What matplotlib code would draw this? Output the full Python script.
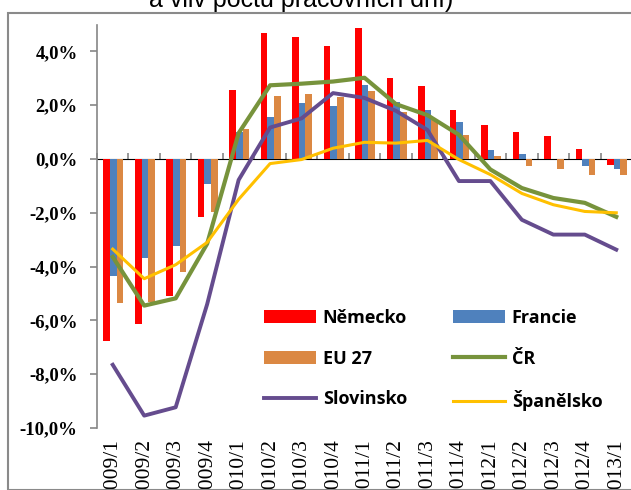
import matplotlib
matplotlib.use("Agg")
import matplotlib.pyplot as plt
import numpy as np
from matplotlib.patches import Rectangle
from matplotlib.ticker import FuncFormatter, FixedLocator, NullFormatter

categories = ["2009/1", "2009/2", "2009/3", "2009/4", "2010/1", "2010/2", "2010/3", "2010/4",
              "2011/1", "2011/2", "2011/3", "2011/4", "2012/1", "2012/2", "2012/3", "2012/4", "2013/1"]
nemecko = [-6.75, -6.12, -5.08, -2.16, 2.58, 4.67, 4.55, 4.21, 4.86, 3.01, 2.70, 1.84, 1.26, 1.02, 0.85, 0.37, -0.23]
francie = [-4.34, -3.68, -3.25, -0.92, 1.02, 1.57, 2.09, 1.96, 2.74, 2.12, 1.84, 1.36, 0.32, 0.20, 0.0, -0.27, -0.37]
eu27 = [-5.35, -5.32, -4.21, -1.97, 1.10, 2.34, 2.43, 2.31, 2.52, 1.75, 1.45, 0.88, 0.12, -0.27, -0.37, -0.61, -0.61]
cr = [-3.64, -5.45, -5.18, -3.15, 0.96, 2.74, 2.80, 2.88, 3.02, 2.04, 1.63, 0.90, -0.39, -1.08, -1.45, -1.63, -2.15]
slovinsko = [-7.65, -9.54, -9.23, -5.4, -0.78, 1.17, 1.51, 2.45, 2.27, 1.79, 1.08, -0.82, -0.82, -2.26, -2.81, -2.81, -3.37]
spanelsko = [-3.35, -4.45, -3.93, -3.1, -1.50, -0.17, -0.02, 0.40, 0.62, 0.59, 0.69, -0.02, -0.58, -1.28, -1.70, -1.95, -2.0]
yticks = [-10, -8, -6, -4, -2, 0, 2, 4]

W, H = 631, 490
fig = plt.figure(figsize=(W / 100, H / 100), dpi=100)

# outer chart frame
fig.patches.append(Rectangle((8 / W, 0), 1, 1 - 13 / H, transform=fig.transFigure,
                             fill=False, edgecolor="#8a8a8a", linewidth=1.5))

fig.text(301 / W, 1 - 7 / H, "a vliv počtu pracovních dní)", ha="center", va="baseline",
         fontsize=18, family="Liberation Sans", color="black")

ax = fig.add_axes([97 / W, 1 - 428 / H, 535 / W, (428 - 24.5) / H])
x = np.arange(len(categories))
bw = 0.21
ax.bar(x - bw + 0.02, nemecko, bw, color="#FF0000", label="Německo", zorder=2)
ax.bar(x + 0.02, francie, bw, color="#4F81BD", label="Francie", zorder=2)
ax.bar(x + bw + 0.02, eu27, bw, color="#DB8843", label="EU 27", zorder=2)
ax.plot(x, cr, color="#77933C", lw=3.0, label="ČR", zorder=3)
ax.plot(x, slovinsko, color="#654C8E", lw=2.8, label="Slovinsko", zorder=3)
ax.plot(x, spanelsko, color="#FFC000", lw=2.2, label="Španělsko", zorder=3)

ax.set_xlim(-0.5, len(categories) - 0.5)
ax.set_ylim(-10, 5)
for s in ["top", "right", "bottom"]:
    ax.spines[s].set_visible(False)
ax.spines["left"].set_color("#868686")
ax.spines["left"].set_linewidth(1.2)

ax.set_yticks(yticks)
ax.yaxis.set_major_formatter(FuncFormatter(lambda v, p: f"{v:.1f}%".replace(".", ",")))
ax.tick_params(axis="y", direction="out", length=5, color="#868686", width=1.2, pad=9)
for lab in ax.get_yticklabels():
    lab.set_fontfamily("Liberation Serif")
    lab.set_fontweight("bold")
    lab.set_fontsize(13.5)

ax.set_xticks(x)
ax.set_xticklabels(categories, rotation=90, fontsize=15.5, family="Liberation Serif")
ax.tick_params(axis="x", length=0, pad=8)

# category axis at zero
sec = ax.secondary_xaxis(10 / 15)
sec.spines["bottom"].set_color("#868686")
sec.spines["bottom"].set_linewidth(1.2)
sec.xaxis.set_major_locator(FixedLocator(np.arange(-0.5, len(categories), 1)))
sec.xaxis.set_major_formatter(NullFormatter())
sec.tick_params(axis="x", direction="out", length=4.5, color="#868686", width=1.2)

handles, labels = ax.get_legend_handles_labels()
order = ["Německo", "EU 27", "Slovinsko", "Francie", "ČR", "Španělsko"]
hmap = dict(zip(labels, handles))
leg = ax.legend([hmap[o] for o in order], order, ncol=2, frameon=False,
                loc="upper left", bbox_to_anchor=(264 / W, 1 - 309 / H),
                bbox_transform=fig.transFigure, borderpad=0, borderaxespad=0,
                handlelength=2.9, handletextpad=0.35, columnspacing=2.55, labelspacing=1.25,
                prop={"family": "Open Sans", "weight": "bold", "size": 13})

fig.savefig("out.png", dpi=100)
